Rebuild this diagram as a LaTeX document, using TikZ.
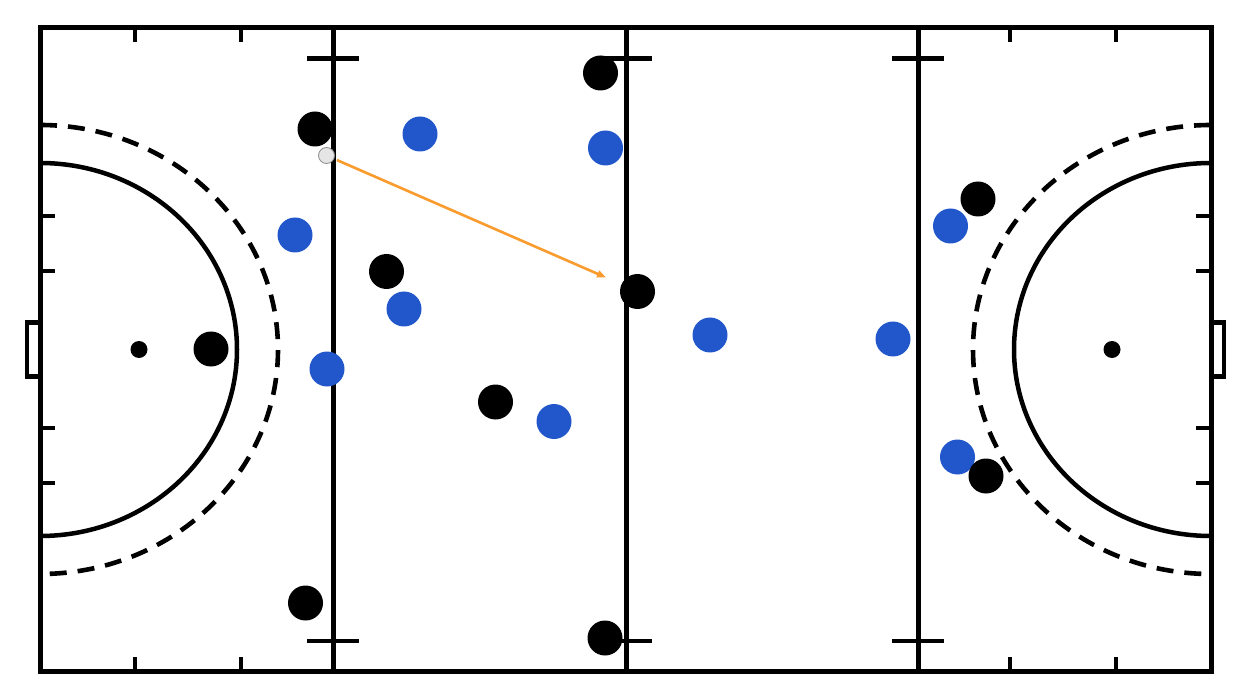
\documentclass[tikz,border=0pt]{standalone}
\usetikzlibrary{arrows.meta}
\definecolor{teamblue}{RGB}{34,87,204}
\definecolor{passorange}{RGB}{250,155,45}
\tikzset{
  fieldline/.style={line width=5pt, line cap=butt},
  tickline/.style={line width=4.6pt},
  circleline/.style={line width=4.5pt},
  dashline/.style={line width=4.6pt, dash pattern=on 17pt off 11pt},
  blackplayer/.style={circle, fill=black, inner sep=0pt, minimum size=35pt},
  blueplayer/.style={circle, fill=teamblue, inner sep=0pt, minimum size=35pt},
  ballnode/.style={circle, fill=black!10, draw=black!45, line width=0.8pt, inner sep=0pt, minimum size=16pt},
  spot/.style={circle, fill=black, inner sep=0pt, minimum size=17pt},
  pass/.style={draw=passorange, line width=2.6pt, -{Triangle[length=9pt,width=7pt]}}
}
\begin{document}
\begin{tikzpicture}[x=1pt,y=-1pt]
\useasboundingbox (0,0) rectangle (1260,700);
\fill[white] (0,0) rectangle (1260,700);
% shooting circles
\draw[circleline] (40,163) arc[start angle=-90, end angle=90, x radius=197, y radius=186.5];
\draw[dashline] (40,125) arc[start angle=-90, end angle=90, x radius=238, y radius=224.5];
\draw[circleline] (1211,163) arc[start angle=270, end angle=90, x radius=197, y radius=186.5];
\draw[dashline] (1211,125) arc[start angle=270, end angle=90, x radius=238, y radius=224.5];
% penalty spots
\node[spot] (ps1) at (139,349.5) {};
\node[spot] (ps2) at (1112,349.5) {};
% goals
\draw[tickline] (40,322.5) -- (27,322.5) -- (27,376.5) -- (40,376.5);
\draw[tickline] (1211,322.5) -- (1224,322.5) -- (1224,376.5) -- (1211,376.5);
% lines across field
\foreach \x in {333,626,918}{
  \draw[fieldline] (\x,28) -- (\x,671);
  \draw[tickline] (\x-26,58.5) -- (\x+26,58.5);
  \draw[tickline] (\x-26,641) -- (\x+26,641);
}
% ticks on top and bottom
\foreach \x in {135,241,1010,1116}{
  \draw[tickline] (\x,28) -- (\x,42);
  \draw[tickline] (\x,671) -- (\x,657);
}
% ticks on sides
\foreach \y in {216,271,428,483}{
  \draw[tickline] (40,\y) -- (55,\y);
  \draw[tickline] (1211,\y) -- (1196,\y);
}
% outer boundary
\draw[fieldline, line join=miter] (40,28) rectangle (1211,671);
% black players
\node[blackplayer] (k1) at (315,129) {};
\node[blackplayer] (k2) at (600.5,73) {};
\node[blackplayer] (k3) at (386.5,271.5) {};
\node[blackplayer] (k4) at (637.5,291.5) {};
\node[blackplayer] (k5) at (211,349) {};
\node[blackplayer] (k6) at (495.5,402) {};
\node[blackplayer] (k7) at (305.5,603) {};
\node[blackplayer] (k8) at (605,638) {};
\node[blackplayer] (k9) at (978,199) {};
% blue players
\node[blueplayer] (u1) at (420,134) {};
\node[blueplayer] (u2) at (605.5,148) {};
\node[blueplayer] (u3) at (295,235) {};
\node[blueplayer] (u4) at (404,309) {};
\node[blueplayer] (u5) at (327,369) {};
\node[blueplayer] (u6) at (554,421.5) {};
\node[blueplayer] (u7) at (710,335) {};
\node[blueplayer] (u8) at (893,339) {};
\node[blueplayer] (u9) at (950.5,226) {};
\node[blueplayer] (u10) at (957.5,457) {};
\node[blackplayer] (k10) at (986,476) {};
% ball and pass
\node[ballnode] (ball) at (326.5,155.5) {};
\coordinate (target) at (606,277.5);
\draw[pass, shorten <=3pt] (ball) -- (target);
\end{tikzpicture}
\end{document}
